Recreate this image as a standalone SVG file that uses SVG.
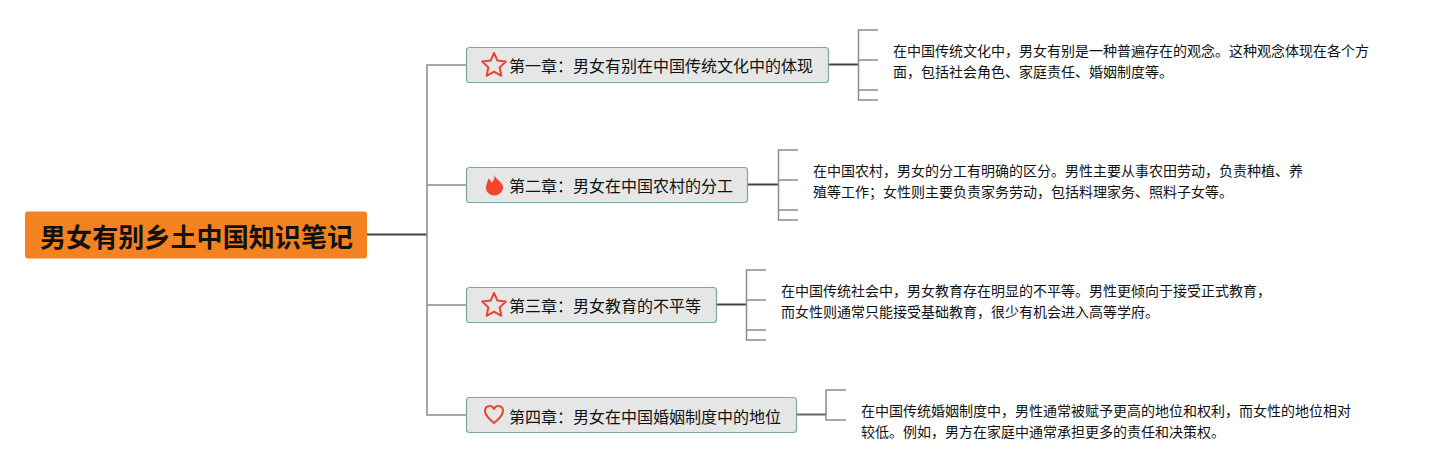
<svg xmlns="http://www.w3.org/2000/svg" width="1453" height="470" viewBox="0 0 1453 470">
<style>
text{font-family:"Noto Sans CJK SC","Liberation Sans",sans-serif;fill:#111}
.root{font-size:26px;font-weight:700}
.t{font-size:16px}
.d{font-size:14px}
.n{fill:#e5e6e6;stroke:#7fa89c;stroke-width:1.2}
.c{fill:none;stroke:#8c8c8c;stroke-width:1.5}
.k{fill:none;stroke:#444;stroke-width:2}
.s{fill:none;stroke:#e8432f;stroke-width:2;stroke-linejoin:round}
</style>
<defs><path id="star" d="M0-12 3.4-4.400 11.800-3.400 5.700 2.400 7.300 10.800 0 6.600-7.300 10.800-5.700 2.400-11.800-3.400-3.400-4.400Z"/></defs>
<rect width="1453" height="470" fill="#fff"/>
<g id="connectors">
<path class="k" d="M367 234.500H427"/>
<path class="c" d="M466 65H427V415H466M427 185H466M427 305H466"/>
<path class="k" d="M828 64.500H858M748 184.500H778M717 304.500H747"/>
<path class="k" style="stroke:#666" d="M797 414.500H826"/>
<path class="c" d="M878 30H858.500V100H878M858.500 60H878M858.500 90H878"/>
<path class="c" d="M798 150H778.500V220H798M778.500 180H798M778.500 210H798"/>
<path class="c" d="M766 270H746.500V340H766M746.500 300H766M746.500 330H766"/>
<path class="c" d="M846 390H826V420H846"/>
</g>
<g id="root"><rect x="25" y="211.500" width="342" height="47" rx="3" fill="#f58220"/><text class="root" x="40" y="247" textLength="313">男女有别乡土中国知识笔记</text></g>
<g id="n1"><rect class="n" x="466.500" y="47.500" width="362" height="35" rx="3"/><use href="#star" class="s" x="494" y="65"/><text class="t" x="509" y="72">第一章：男女有别在中国传统文化中的体现</text></g>
<g id="n2"><rect class="n" x="466.500" y="167.500" width="281" height="35" rx="3"/><path d="M494.500 174.500C495 179 501 181 503 186 504 191 499 195.500 494.500 195.500 489 195.500 485.500 191 486 187 486.500 183 488 181 488.500 178.500 490 179 491 181 491.500 183 493.500 181 495 178 494.500 174.500Z" fill="#f4442e"/><text class="t" x="509" y="192">第二章：男女在中国农村的分工</text></g>
<g id="n3"><rect class="n" x="466.500" y="287.500" width="250" height="35" rx="3"/><use href="#star" class="s" x="494" y="305"/><text class="t" x="509" y="312">第三章：男女教育的不平等</text></g>
<g id="n4"><rect class="n" x="466.500" y="397.500" width="330" height="35" rx="3"/><path class="s" d="M494 423C489 419 485 415 485 411 485 408 487 406 490 406 492 406 493 407 494 409 495 407 496 406 498 406 501 406 503 408 503 411 503 415 499 419 494 423Z"/><text class="t" x="509" y="423">第四章：男女在中国婚姻制度中的地位</text></g>
<g id="d1"><text class="d" x="893" y="56">在中国传统文化中，男女有别是一种普遍存在的观念。这种观念体现在各个方</text><text class="d" x="893" y="77">面，包括社会角色、家庭责任、婚姻制度等。</text></g>
<g id="d2"><text class="d" x="813" y="176">在中国农村，男女的分工有明确的区分。男性主要从事农田劳动，负责种植、养</text><text class="d" x="813" y="197">殖等工作；女性则主要负责家务劳动，包括料理家务、照料子女等。</text></g>
<g id="d3"><text class="d" x="781" y="296">在中国传统社会中，男女教育存在明显的不平等。男性更倾向于接受正式教育，</text><text class="d" x="781" y="317">而女性则通常只能接受基础教育，很少有机会进入高等学府。</text></g>
<g id="d4"><text class="d" x="861" y="416">在中国传统婚姻制度中，男性通常被赋予更高的地位和权利，而女性的地位相对</text><text class="d" x="861" y="437">较低。例如，男方在家庭中通常承担更多的责任和决策权。</text></g>
</svg>
